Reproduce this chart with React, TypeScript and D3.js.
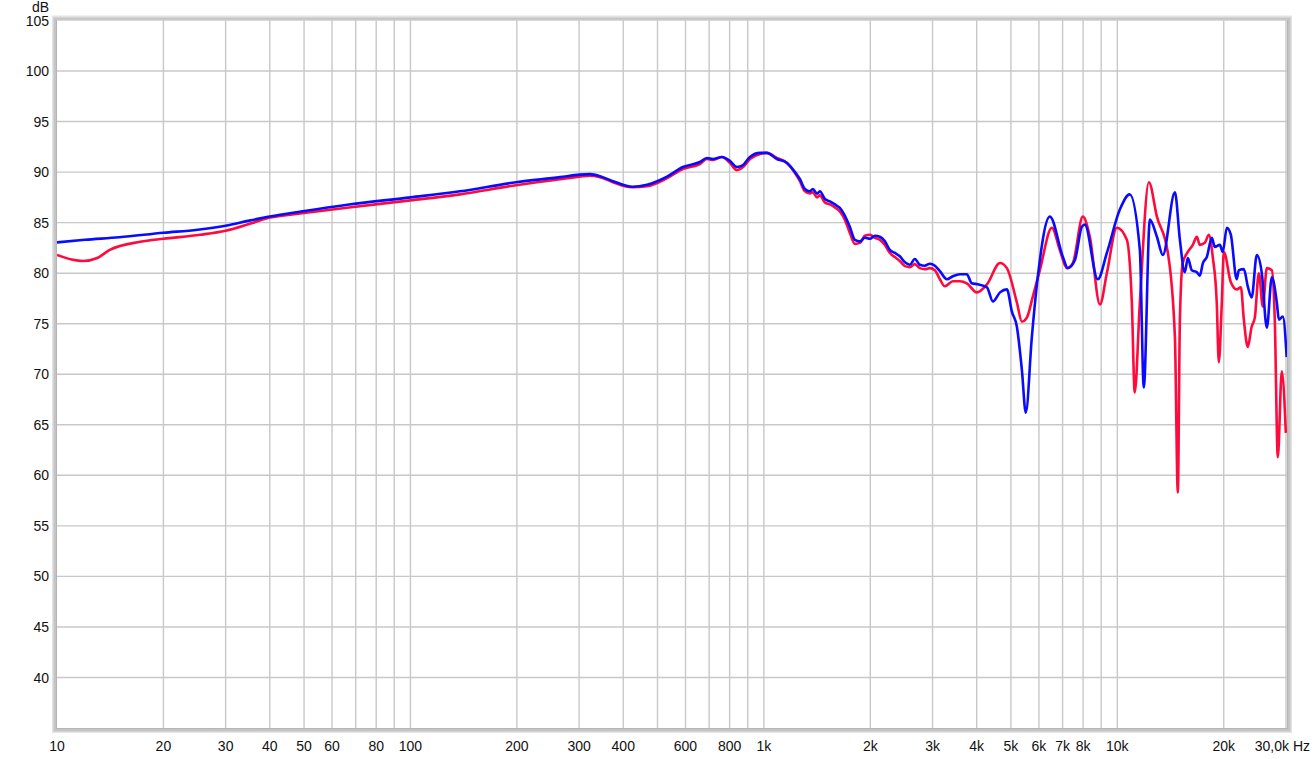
import React from "react";
import * as d3 from "d3";

const blueFreq = [10,12,15,20,25,30,35,40,49,67,100,138,199,265,301,322,344,374,404,424,467,532,590,659,690,718,761,802,839,873,913,975,1019,1088,1162,1240,1264,1306,1349,1376,1414,1440,1488,1537,1588,1640,1694,1750,1809,1869,1931,1995,2061,2129,2200,2272,2348,2425,2506,2588,2673,2761,2853,2948,3046,3147,3294,3424,3586,3750,3874,4031,4276,4447,4656,4869,5031,5197,5370,5508,5730,5958,6442,7015,7241,7586,7937,8090,8804,9339,10164,10840,11580,11880,12360,12940,13450,14550,15030,15520,15830,16240,16790,17110,17460,17910,18510,18870,19500,19870,20410,20950,21760,22070,22800,23390,23990,24810,25630,26480,27360,28260,28640,29390,30140];
const blueDb = [83.05,83.3,83.55,84.0,84.3,84.7,85.2,85.6,86.1,86.8,87.5,88.1,89.0,89.5,89.75,89.8,89.6,89.1,88.7,88.55,88.75,89.55,90.5,91.0,91.4,91.3,91.5,91.1,90.5,90.7,91.5,91.9,91.9,91.3,90.9,89.75,89.33,88.33,88.1,88.33,87.87,88.1,87.35,87.1,86.8,86.45,85.7,84.6,83.3,83.15,83.5,83.4,83.7,83.6,83.15,82.3,82.0,81.67,81.07,80.84,81.4,80.84,80.74,80.94,80.74,80.2,79.4,79.7,79.9,79.9,79.0,78.9,78.6,77.2,78.1,78.4,76.2,74.7,70.4,66.2,73.7,79.7,85.6,81.6,80.5,81.3,84.6,84.8,79.4,82.0,86.3,87.8,82.3,68.7,85.3,83.6,81.8,88.0,83.3,80.1,81.5,80.3,80.1,79.75,81.0,81.6,83.5,82.6,82.8,82.1,84.5,83.8,79.4,80.3,80.4,78.7,77.6,81.8,80.0,74.6,79.6,77.1,75.4,75.7,71.7];

const redFreq = [10,11,11.85,13,14.1,17.2,20,25.4,30,35.9,40,48.7,67,100,138,199,265,301,322,344,374,404,424,467,532,590,659,690,718,761,802,839,873,913,975,1019,1088,1162,1240,1264,1306,1349,1376,1414,1440,1488,1537,1588,1640,1694,1750,1809,1869,1931,1995,2061,2129,2200,2272,2348,2425,2506,2588,2673,2761,2853,2948,3046,3147,3252,3424,3586,3750,4004,4276,4656,4869,5197,5370,5546,5768,6036,6527,6875,7194,7483,7985,8360,8929,9339,9970,10640,10990,11200,11580,12280,12940,13900,14550,14830,15030,15310,15830,16350,16790,17110,17680,18150,18620,19110,19370,19750,20010,20950,21760,22360,22800,23390,23990,24490,25140,25800,26480,27360,27890,28450,29190,29970];
const redDb = [81.8,81.35,81.2,81.5,82.3,83.1,83.4,83.8,84.2,85.0,85.5,85.9,86.5,87.2,87.8,88.7,89.3,89.55,89.65,89.5,89.0,88.6,88.5,88.6,89.4,90.3,90.8,91.3,91.2,91.5,90.9,90.2,90.5,91.3,91.8,91.9,91.4,90.9,89.6,89.1,88.1,87.9,88.0,87.5,87.7,87.0,86.8,86.5,86.1,85.3,84.0,82.9,83.0,83.7,83.8,83.5,83.3,82.8,82.0,81.6,81.2,80.7,80.6,80.9,80.5,80.4,80.5,80.3,79.4,78.7,79.2,79.2,79.0,78.1,78.9,81.0,80.5,77.1,75.2,75.6,77.7,80.3,84.5,82.3,80.5,81.0,85.6,83.6,76.9,80.0,84.5,83.3,77.1,68.2,77.1,89.0,85.6,82.0,73.7,58.3,75.4,81.0,82.1,82.8,83.6,82.8,83.0,83.8,81.6,77.1,71.2,77.1,82.1,79.1,78.4,78.6,75.4,72.7,74.7,75.6,80.0,76.7,80.5,80.3,75.4,61.8,70.3,64.2];

const xTickValues = [10,20,30,40,50,60,80,100,200,300,400,600,800,1000,2000,3000,4000,5000,6000,7000,8000,10000,20000];
const xTickLabels = ["10","20","30","40","50","60","80","100","200","300","400","600","800","1k","2k","3k","4k","5k","6k","7k","8k","10k","20k"];
const yTickValues = [40,45,50,55,60,65,70,75,80,85,90,95,100,105];
const lastXLabel = "30,0k Hz";
const yUnit = "dB";

const W = 1315, H = 759;
const L = 57, R = 1287, T = 20.5, B = 728;

export default function App() {
  const x = d3.scaleLog().domain([10, 30200]).range([L, R]);
  const y = d3.scaleLinear().domain([35, 105]).range([B, T]);

  const gridX: number[] = [];
  for (let dec = 10; dec < 30000; dec *= 10) {
    for (let m = 1; m <= 9; m++) {
      const f = dec * m;
      if (f > 10 && f < 30200) gridX.push(f);
    }
  }

  const line = d3
    .line<[number, number]>()
    .x((d) => x(d[0]))
    .y((d) => y(d[1]))
    .curve(d3.curveMonotoneX);

  const red = line(redFreq.map((f, i) => [f, redDb[i]] as [number, number])) || "";
  const blue = line(blueFreq.map((f, i) => [f, blueDb[i]] as [number, number])) || "";

  const font = "'Liberation Sans', Arial, sans-serif";

  return (
    <svg width={W} height={H} style={{ position: "absolute", left: 0, top: 0, background: "#fff" }}>
      <rect x={0} y={0} width={W} height={H} fill="#fff" />
      <rect x={L} y={T} width={R - L} height={B - T} fill="#fff" />
      {gridX.map((f) => (
        <line key={"gx" + f} x1={x(f)} x2={x(f)} y1={T} y2={B} stroke="#c8c8c8" strokeWidth={1.4} />
      ))}
      {yTickValues.filter((v) => v < 105).map((v) => (
        <line key={"gy" + v} x1={L} x2={R} y1={y(v)} y2={y(v)} stroke="#c8c8c8" strokeWidth={1.4} />
      ))}
      <defs>
        <clipPath id="plotclip">
          <rect x={L} y={T} width={R - L} height={B - T} />
        </clipPath>
      </defs>
      <g clipPath="url(#plotclip)">
        <path d={red} fill="none" stroke="#ff0a3c" strokeWidth={2.6} strokeLinejoin="round" />
        <path d={blue} fill="none" stroke="#0a0aff" strokeWidth={2.6} strokeLinejoin="round" />
      </g>
      {/* frame bevel */}
      <rect x={L - 4.5} y={T - 4.5} width={R - L + 9} height={B - T + 9} fill="none" stroke="#e4e4e4" strokeWidth={1} />
      <rect x={L - 3.5} y={T - 3.5} width={R - L + 7} height={B - T + 7} fill="none" stroke="#d4d4d4" strokeWidth={1} />
      <rect x={L - 2} y={T - 2} width={R - L + 4} height={B - T + 4} fill="none" stroke="#c4c4c4" strokeWidth={2} />
      <rect x={L - 0.5} y={T - 0.5} width={R - L + 1} height={B - T + 1} fill="none" stroke="#b4b4b4" strokeWidth={1} />
      {yTickValues.map((v) => (
        <text key={"yl" + v} x={49} y={y(v)} dy="0.36em" textAnchor="end" fontFamily={font} fontSize={14} fill="#111">
          {v}
        </text>
      ))}
      <text x={49} y={7} dy="0.36em" textAnchor="end" fontFamily={font} fontSize={14} fill="#111">
        {yUnit}
      </text>
      {xTickValues.map((f, i) => (
        <text key={"xl" + f} x={x(f)} y={746} dy="0.36em" textAnchor="middle" fontFamily={font} fontSize={14} fill="#111">
          {xTickLabels[i]}
        </text>
      ))}
      <text x={1310} y={746} dy="0.36em" textAnchor="end" fontFamily={font} fontSize={14} fill="#111">
        {lastXLabel}
      </text>
    </svg>
  );
}
